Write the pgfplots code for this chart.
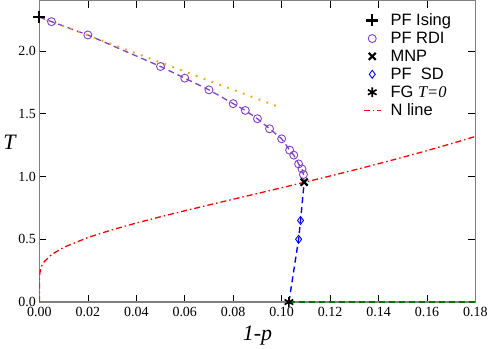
\documentclass[border=0pt]{standalone}
\usepackage{fontspec}
\setmainfont{Liberation Serif}
\newfontfamily\legfont{Liberation Sans}
\usepackage{pgfplots}
\pgfplotsset{compat=1.18}
\definecolor{rdi}{rgb}{0.50,0.25,0.80}
\definecolor{orng}{rgb}{1.0,0.65,0.0}
\definecolor{dgreen}{rgb}{0.0,0.45,0.0}
\begin{document}
\begin{tikzpicture}
\begin{axis}[
  scale only axis,
  width=437pt, height=302pt,
  xmin=0, xmax=0.18, ymin=0, ymax=2.4,
  xtick={0,0.02,0.04,0.06,0.08,0.10,0.12,0.14,0.16,0.18},
  ytick={0,0.5,1.0,1.5,2.0},
  tick align=inside,
  major tick length=7pt,
  tick style={black, line width=0.6pt},
  axis line style={gray, line width=1.4pt},
  /pgf/number format/assume math mode=true,
  tick label style={font=\fontsize{14}{14}\selectfont},
  xticklabel style={yshift=-2pt, /pgf/number format/.cd, fixed, fixed zerofill, precision=2},
  yticklabel style={/pgf/number format/.cd, fixed, fixed zerofill, precision=1},
  xticklabel={\pgfmathprintnumber{\tick}},
  ylabel={\fontsize{22}{22}\selectfont\itshape T},
  ylabel style={rotate=-90, at={(ticklabel cs:0.53)}, xshift=4pt},
  xlabel={\fontsize{22}{22}\selectfont\itshape 1-p},
  xlabel style={yshift=-2pt},
  legend style={draw=none, fill=none, at={(0.735,0.968)}, anchor=north west,
    font=\legfont\fontsize{16.5}{16.5}\selectfont, row sep=2.6pt,
    nodes={inner sep=1.2pt},
    /tikz/every odd column/.append style={column sep=8pt}},
  legend cell align=left,
]
% purple dashed guide
\addplot[rdi, line width=1.3pt, dash pattern=on 6pt off 4pt, forget plot] coordinates {
(0,2.269) (0.005,2.233) (0.02,2.127) (0.05,1.876) (0.06,1.783) (0.07,1.69) (0.08,1.58) (0.085,1.526) (0.09,1.46) (0.095,1.38) (0.10,1.30) (0.1033,1.21) (0.105,1.17) (0.107,1.10) (0.1084,1.06) (0.109,1.016) (0.1093,0.955)};
% orange dotted
\addplot[orng, line width=2pt, dash pattern=on 1.8pt off 6.6pt, forget plot] coordinates {
(0.003,2.248) (0.099,1.553)};
% blue dashed
\addplot[blue, line width=1.4pt, dash pattern=on 6pt off 4pt, forget plot] coordinates {
(0.103,0) (0.107,0.5) (0.1078,0.65) (0.1093,0.955)};
% green dashed
\addplot[dgreen, line width=1.2pt, dash pattern=on 6pt off 4pt, forget plot] coordinates {
(0.103,0) (0.18,0)};
% PF Ising
\addplot[only marks, mark=+, mark size=6pt, line width=2.2pt, black] coordinates {(0,2.269)};
\addlegendentry{PF Ising}
% PF RDI
\addplot[only marks, mark=o, mark size=4pt, line width=0.9pt, rdi] coordinates {
(0.005,2.233) (0.02,2.127) (0.05,1.876) (0.06,1.783) (0.07,1.69) (0.08,1.58) (0.085,1.526) (0.09,1.46) (0.095,1.38) (0.10,1.30) (0.1033,1.21) (0.105,1.17) (0.107,1.10) (0.1084,1.06) (0.109,1.016)};
\addlegendentry{PF RDI}
% MNP
\addplot[only marks, mark=x, mark size=5pt, line width=2.2pt, black] coordinates {(0.1093,0.955)};
\addlegendentry{MNP}
% PF SD
\addplot[only marks, mark=diamond, mark size=4pt, line width=0.9pt, blue] coordinates {
(0.107,0.5) (0.1078,0.65)};
\addlegendentry{PF\ \ SD}
% FG T=0
\addplot[only marks, mark=asterisk, mark size=5pt, line width=1.6pt, black] coordinates {(0.103,0)};
\addlegendentry{FG {\fontspec{Liberation Serif}\itshape T=0}}
% N line
\addplot[red, line width=1.3pt, dash pattern=on 6pt off 3pt on 1.5pt off 3pt] coordinates {
(0,0) (0.00001,0.1737) (0.0001,0.2172) (0.0005,0.2632) (0.001,0.2896) (0.002,0.3219) (0.005,0.3778) (0.01,0.4352) (0.02,0.5139) (0.03,0.5754) (0.04,0.6293) (0.05,0.6792) (0.06,0.7269) (0.07,0.7732) (0.08,0.8189) (0.09,0.8644) (0.10,0.9102) (0.11,0.9566) (0.12,1.0038) (0.13,1.0521) (0.14,1.1017) (0.15,1.1530) (0.16,1.2061) (0.17,1.2613) (0.18,1.3190)};
\addlegendentry{N line}
\end{axis}
\end{tikzpicture}
\end{document}
